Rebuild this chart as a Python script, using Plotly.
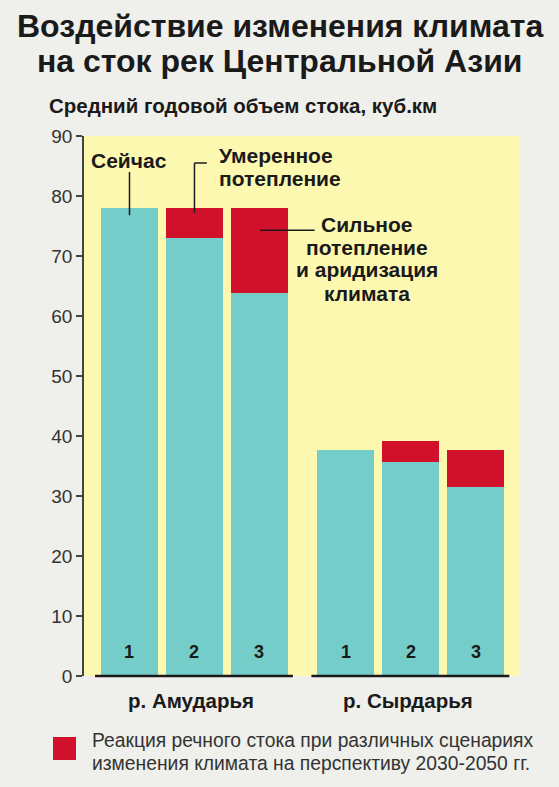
import plotly.graph_objects as go

# Data
rivers = ["р. Амударья", "р. Сырдарья"]
scenarios = ["1", "2", "3"]
amu_base = [78.0, 73.0, 63.8]      # cyan part (runoff remaining)
amu_reaction = [0.0, 5.0, 14.2]    # red part (runoff reaction)
syr_base = [37.7, 35.7, 31.5]
syr_reaction = [0.0, 3.5, 6.2]

y_ticks = [0, 10, 20, 30, 40, 50, 60, 70, 80, 90]

title_lines = ["Воздействие изменения климата", "на сток рек Центральной Азии"]
subtitle = "Средний годовой объем стока, куб.км"
legend_text = ["Реакция речного стока при различных сценариях",
               "изменения климата на перспективу 2030-2050 гг."]
call_now = ["Сейчас"]
call_moderate = ["Умеренное", "потепление"]
call_strong = ["Сильное", "потепление", "и аридизация", "климата"]

CYAN = "#75cdc9"
RED = "#d1102c"
YELLOW = "#fdf8b0"
BG = "#efefeb"
INK = "#1a1a1a"
FONT = "Liberation Sans, Arial, sans-serif"

# plot area in pixels: top 136, bottom 676
def py(pix):
    return (676 - pix) / 540.0

group_gap = 3.33
bar_w = 0.877

base_vals = amu_base + syr_base
reaction_vals = amu_reaction + syr_reaction
x_pos = [g * group_gap + s for g in range(len(rivers)) for s in range(len(scenarios))]

fig = go.Figure()
fig.add_trace(go.Bar(x=x_pos, y=base_vals, width=bar_w, marker_color=CYAN,
                     marker_line_width=0, hoverinfo="y", showlegend=False))
fig.add_trace(go.Bar(x=x_pos, y=reaction_vals, width=bar_w, marker_color=RED,
                     marker_line_width=0, hoverinfo="y", showlegend=False))

# scenario numbers inside bars
for i, x in enumerate(x_pos):
    fig.add_annotation(x=x, y=4, xref="x", yref="y", yanchor="middle",
                       text="<b>%s</b>" % scenarios[i % 3],
                       showarrow=False, font=dict(size=18, color=INK))

# underline and river names
for g, name in enumerate(rivers):
    fig.add_shape(type="line", xref="x", yref="paper",
                  x0=g * group_gap - 0.53, x1=g * group_gap + 2.515, y0=0, y1=0,
                  line=dict(color=INK, width=2.5))
    fig.add_annotation(x=g * group_gap + 0.95, y=py(700), xref="x", yref="paper",
                       xanchor="center", yanchor="middle",
                       text="<b>%s</b>" % name, showarrow=False,
                       font=dict(size=20.5, color=INK))

# scenario call-outs
line_style = dict(color=INK, width=1.5)
fig.add_annotation(x=0, y=86, xref="x", yref="y", yanchor="middle",
                   text="<b>%s</b>" % call_now[0],
                   showarrow=False, font=dict(size=21, color=INK))
fig.add_shape(type="line", x0=0, x1=0, y0=84, y1=76.8, line=line_style)

for t, yv in zip(call_moderate, [86.8, 83.0]):
    fig.add_annotation(x=1.346, y=yv, xref="x", yref="y", xanchor="left", yanchor="middle",
                       text="<b>%s</b>" % t, showarrow=False, font=dict(size=21, color=INK))
fig.add_shape(type="line", x0=1, x1=1, y0=85.5, y1=77.2, line=line_style)
fig.add_shape(type="line", x0=1, x1=1.19, y0=85.5, y1=85.5, line=line_style)

for t, yv in zip(call_strong, [75.2, 71.5, 67.7, 63.8]):
    fig.add_annotation(x=3.65, y=yv, xref="x", yref="y", yanchor="middle",
                       text="<b>%s</b>" % t, showarrow=False, font=dict(size=21, color=INK))
fig.add_shape(type="line", x0=2.01, x1=2.85, y0=74.3, y1=74.3, line=line_style)

# title and subtitle
for t, ypix in zip(title_lines, [26, 61]):
    fig.add_annotation(x=0.5, y=py(ypix), xref="paper", yref="paper",
                       xanchor="center", yanchor="middle",
                       xshift=-((84 - 39) / 2.0),
                       text="<b>%s</b>" % t, showarrow=False,
                       font=dict(size=32, color=INK))
fig.add_annotation(x=(47 - 84) / 436.0, y=py(105), xref="paper", yref="paper",
                   xanchor="left", yanchor="middle",
                   text="<b>%s</b>" % subtitle, showarrow=False,
                   font=dict(size=20.5, color=INK))

# legend
fig.add_shape(type="rect", xref="paper", yref="paper",
              x0=(53 - 84) / 436.0, x1=(76 - 84) / 436.0, y0=py(737), y1=py(760),
              fillcolor=RED, line_width=0)
for t, ypix in zip(legend_text, [740, 763]):
    fig.add_annotation(x=(90 - 84) / 436.0, y=py(ypix), xref="paper", yref="paper",
                       xanchor="left", yanchor="middle", text=t, showarrow=False,
                       font=dict(size=19.3, color="#333333"))

fig.update_layout(
    width=559, height=787,
    margin=dict(l=84, r=39, t=136, b=111),
    paper_bgcolor=BG, plot_bgcolor=YELLOW,
    barmode="stack", bargap=0,
    font=dict(family=FONT, color=INK),
    xaxis=dict(range=[-0.7, 6.01], showticklabels=False, showgrid=False, zeroline=False,
               fixedrange=True),
    yaxis=dict(range=[0, 90], tickvals=y_ticks, showgrid=False, zeroline=False,
               showline=True, linecolor="#444444", linewidth=1.5,
               ticks="outside", ticklen=6, tickcolor="#444444", tickwidth=1.5,
               tickfont=dict(size=19, color="#333333"), fixedrange=True),
)

fig.write_html("out.html", config={"displayModeBar": False},
               post_script="document.body.style.margin='0px';")
